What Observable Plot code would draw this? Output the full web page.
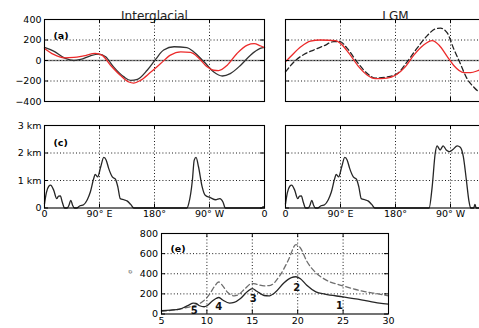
<!DOCTYPE html>
<html>
<head>
<meta charset="utf-8">
<script src="https://cdn.jsdelivr.net/npm/d3@7"></script>
<script src="https://cdn.jsdelivr.net/npm/@observablehq/plot@0.6"></script>
<style>
  html, body { margin: 0; padding: 0; background: #fff; }
  #fig { position: relative; width: 479px; height: 328px; overflow: hidden; font-family: "DejaVu Sans", sans-serif; }
  #fig > .cell { position: absolute; }
  #fig svg { max-width: none !important; }
</style>
</head>
<body>
<div id="fig"></div>
<script>
// Longitude axis shared by the four upper panels
const lonTicks = [0, 90, 180, 270, 360];
const lonTickLabels = ["0", "90° E", "180°", "90° W", "0"];
const lonGrid = [90, 180, 270];

// Stationary-wave amplitude, interglacial
const igBlackLon = [0, 15, 34, 48, 59, 75, 89, 100, 113, 130, 141, 152, 168, 182, 195, 212, 233, 244, 261, 277, 291, 304, 321, 337, 353, 360];
const igBlackVal = [128, 92, 20, 0, 10, 46, 62, 36, -62, -160, -194, -184, -95, 13, 102, 134, 125, 85, -13, -112, -151, -128, -46, 52, 118, 128];
const igRedLon = [0, 15, 32, 48, 64, 83, 94, 108, 124, 138, 146, 157, 173, 190, 206, 223, 239, 253, 266, 277, 285, 299, 315, 332, 343, 353, 360];
const igRedVal = [118, 59, 26, 30, 46, 69, 52, -46, -144, -210, -220, -194, -118, -30, 52, 85, 79, 20, -62, -95, -98, -46, 69, 151, 164, 144, 125];

// Stationary-wave amplitude, LGM
const lgmRedLon = [0, 8, 25, 41, 57, 82, 90, 104, 120, 134, 147, 166, 180, 196, 210, 226, 240, 251, 265, 275, 292, 303, 317, 335, 350, 360];
const lgmRedVal = [-13, 36, 134, 190, 200, 194, 167, 69, -62, -144, -177, -171, -144, -62, 52, 151, 194, 151, 36, -46, -118, -118, -95, -70, -40, -13];
const lgmDashLon = [0, 14, 30, 46, 63, 79, 89, 101, 117, 134, 147, 166, 183, 199, 215, 232, 245, 254, 265, 275, 286, 297, 308, 317, 330, 345, 360];
const lgmDashVal = [-112, -13, 59, 102, 144, 184, 184, 118, -13, -128, -171, -161, -128, -13, 118, 243, 308, 315, 266, 118, -30, -177, -259, -308, -330, -250, -112];

// Topography height (km) along the latitude band
const topoIgLon = [0, 3, 7, 10, 15, 20, 23, 26, 29, 33, 37, 40, 43, 46, 49, 53, 58, 64, 70, 75, 81, 83, 87, 92, 97, 101, 105, 111, 116, 120, 124, 130, 135, 141, 146, 150, 230, 233, 236, 242, 245, 248, 252, 258, 263, 272, 280, 287, 292, 296, 300, 355, 358, 360];
const topoIgVal = [0.15, 0.55, 0.79, 0.83, 0.65, 0.34, 0.43, 0.44, 0.22, 0, 0, 0.1, 0.28, 0.1, 0, 0, 0.08, 0.12, 0.3, 0.58, 1.11, 1.22, 1.13, 1.5, 1.84, 1.74, 1.44, 1.13, 1.05, 0.77, 0.34, 0.3, 0.26, 0.13, 0, 0, 0, 0, 0.16, 1.01, 1.74, 1.84, 1.5, 0.77, 0.46, 0.37, 0.3, 0.34, 0.22, 0, 0, 0, 0.05, 0];
const topoLgmLon = [0, 3, 7, 10, 15, 20, 23, 26, 29, 33, 37, 40, 43, 46, 49, 53, 58, 64, 70, 75, 81, 83, 87, 92, 97, 101, 105, 111, 116, 120, 124, 130, 135, 141, 146, 150, 235, 240, 245, 248, 253, 258, 263, 268, 274, 281, 286, 291, 296, 300, 303, 308, 310, 312, 360];
const topoLgmVal = [0.15, 0.55, 0.79, 0.83, 0.65, 0.34, 0.43, 0.44, 0.22, 0, 0, 0.1, 0.28, 0.1, 0, 0, 0.08, 0.12, 0.3, 0.58, 1.11, 1.22, 1.13, 1.5, 1.84, 1.74, 1.44, 1.13, 1.05, 0.77, 0.34, 0.3, 0.26, 0.13, 0, 0, 0, 0.77, 1.99, 2.26, 2.11, 2.26, 2.11, 2.05, 2.13, 2.26, 2.21, 1.87, 1.01, 0.28, 0, 0, 0.13, 0, 0];

// Resonance spectrum
const specPeriod = [5, 6, 7, 7.5, 8, 8.5, 8.8, 9.2, 9.7, 10, 10.5, 11, 11.3, 11.7, 12.5, 13, 13.7, 14.5, 15, 15.5, 16.3, 16.8, 17.5, 18.5, 19.3, 19.8, 20.3, 21, 22, 23, 25, 27, 29, 30];
const specSolid = [33, 39, 49, 66, 89, 108, 105, 82, 72, 82, 121, 154, 164, 141, 108, 115, 154, 226, 252, 226, 184, 180, 213, 311, 361, 370, 351, 285, 220, 197, 170, 141, 108, 98];
const specDashPeriod = [5, 7, 8.5, 9.5, 10.3, 10.8, 11.3, 11.7, 12.3, 13, 13.5, 14.2, 15, 15.5, 16.3, 17, 18, 19, 19.8, 20.3, 21, 22, 23, 25, 27, 29, 30];
const specDash = [26, 49, 82, 121, 197, 269, 318, 285, 213, 180, 193, 252, 305, 295, 279, 285, 377, 541, 689, 656, 525, 410, 344, 279, 230, 197, 180];
const modeNames = ["1", "2", "3", "4", "5"];
const modePeriod = [24.6, 19.9, 15.1, 11.3, 8.6];
const modeLabelVal = [82, 260, 150, 72, 32];

const waveTicks = [-400, -200, 0, 200, 400];
const waveGrid = [-200, 200];
const topoTicks = [0, 1, 2, 3];
const topoTickLabels = ["0", "1 km", "2 km", "3 km"];
const topoGrid = [1, 2];
const specXTicks = [5, 10, 15, 20, 25, 30];
const specXGrid = [10, 15, 20, 25];
const specYTicks = [0, 200, 400, 600, 800];
const specYGrid = [200, 400, 600];

const font = "DejaVu Sans, sans-serif";
const RED = "#ec2a2a";
const DARK = "#262626";
const style = {fontFamily: font, fontSize: "9.5px", background: "transparent", overflow: "visible", color: "black", maxWidth: "none"};
const dotted = {stroke: "black", strokeWidth: 0.9, strokeDasharray: "1,2.2"};

const pairs = (xs, ys) => xs.map((x, i) => ({x, y: ys[i]}));
const signed = d => d < 0 ? "\u2212" + (-d) : String(d);
const lonLabel = d => lonTickLabels[lonTicks.indexOf(d)];
const topoLabel = d => topoTickLabels[topoTicks.indexOf(d)];

// Short inward ticks on all four sides of a frame
function inwardTicks(xs, ys, fw, fh, len = 4) {
  return [
    Plot.tickX(xs, {x: d => d, insetTop: fh - len, stroke: "black"}),
    Plot.tickX(xs, {x: d => d, insetBottom: fh - len, stroke: "black"}),
    Plot.tickY(ys, {y: d => d, insetRight: fw - len, stroke: "black"}),
    Plot.tickY(ys, {y: d => d, insetLeft: fw - len, stroke: "black"})
  ];
}

function place(node, left, top, width, height) {
  const cell = document.createElement("div");
  cell.className = "cell";
  cell.style.left = left + "px";
  cell.style.top = top + "px";
  cell.style.width = width + "px";
  cell.style.height = height + "px";
  cell.appendChild(node);
  document.getElementById("fig").appendChild(cell);
}

// Upper row: stationary waves
function wavePanel({title, label, showY, lines}) {
  const W = 270, H = 105, m = {top: 19, right: 6, bottom: 4, left: 44};
  const fw = W - m.left - m.right, fh = H - m.top - m.bottom;
  return Plot.plot({
    width: W, height: H,
    marginTop: m.top, marginRight: m.right, marginBottom: m.bottom, marginLeft: m.left,
    style,
    x: {domain: [0, 360], axis: null},
    y: {domain: [-400, 400], axis: null},
    marks: [
      Plot.ruleX(lonGrid, dotted),
      Plot.ruleY(waveGrid, dotted),
      Plot.ruleY([0], {stroke: "#8a8a8a", strokeWidth: 1.3}),
      Plot.ruleY([0], dotted),
      ...lines.map(l => Plot.line(pairs(l.x, l.y), {x: "x", y: "y", stroke: l.stroke, strokeWidth: 1.3, strokeDasharray: l.dash, curve: "monotone-x"})),
      ...inwardTicks(lonTicks, waveTicks, fw, fh),
      Plot.frame({stroke: "black", strokeWidth: 1.1}),
      showY ? Plot.axisY({ticks: waveTicks, tickSize: 0, tickPadding: 3, tickFormat: signed, fontSize: 9.5, label: null}) : null,
      Plot.text([title], {frameAnchor: "top", dy: -8.3, fontSize: 12, fill: "#222"}),
      label ? Plot.text([label], {frameAnchor: "top-left", dx: 9, dy: 13, textAnchor: "start", fontWeight: "bold", fontSize: 9.5}) : null
    ]
  });
}

// Middle row: topography
function topoPanel({label, showY, labelTicks, x, y}) {
  const W = 270, H = 122, m = {top: 19, right: 6, bottom: 20.5, left: 44};
  const fw = W - m.left - m.right, fh = H - m.top - m.bottom;
  return Plot.plot({
    width: W, height: H,
    marginTop: m.top, marginRight: m.right, marginBottom: m.bottom, marginLeft: m.left,
    style,
    x: {domain: [0, 360], axis: null},
    y: {domain: [0, 3], axis: null},
    marks: [
      Plot.ruleX(lonGrid, dotted),
      Plot.ruleY(topoGrid, dotted),
      Plot.line(pairs(x, y), {x: "x", y: "y", stroke: DARK, strokeWidth: 1.3, curve: "monotone-x"}),
      ...inwardTicks(lonTicks, topoTicks, fw, fh),
      Plot.frame({stroke: "black", strokeWidth: 1.1}),
      Plot.axisX({ticks: labelTicks, tickSize: 0, tickPadding: 2.5, tickFormat: lonLabel, fontSize: 9.5, label: null}),
      showY ? Plot.axisY({ticks: topoTicks, tickSize: 0, tickPadding: 3, tickFormat: topoLabel, fontSize: 9.5, label: null}) : null,
      label ? Plot.text([label], {frameAnchor: "top-left", dx: 9, dy: 13.5, textAnchor: "start", fontWeight: "bold", fontSize: 9.5}) : null
    ]
  });
}

place(wavePanel({
  title: "Interglacial", label: "(a)", showY: true,
  lines: [
    {x: igBlackLon, y: igBlackVal, stroke: "#333"},
    {x: igRedLon, y: igRedVal, stroke: RED}
  ]
}), 0, 0, 270, 105);

place(wavePanel({
  title: "LGM", label: null, showY: false,
  lines: [
    {x: lgmDashLon, y: lgmDashVal, stroke: "#222", dash: "5,3"},
    {x: lgmRedLon, y: lgmRedVal, stroke: RED}
  ]
}), 241, 0, 270, 105);

place(topoPanel({label: "(c)", showY: true, labelTicks: lonTicks, x: topoIgLon, y: topoIgVal}), 0, 106, 270, 122);
// the LGM panel runs past the right edge of the figure, so its closing label is left off
place(topoPanel({label: null, showY: false, labelTicks: lonTicks.slice(0, 4), x: topoLgmLon, y: topoLgmVal}), 241, 106, 270, 122);

// Bottom: spectrum of resonant modes
{
  const W = 295, H = 103, m = {top: 8, right: 7, bottom: 14.5, left: 61};
  const fw = W - m.left - m.right, fh = H - m.top - m.bottom;
  const modes = modeNames.map((name, i) => ({name, x: modePeriod[i], y: modeLabelVal[i]}));
  place(Plot.plot({
    width: W, height: H,
    marginTop: m.top, marginRight: m.right, marginBottom: m.bottom, marginLeft: m.left,
    style,
    x: {domain: [5, 30], axis: null},
    y: {domain: [0, 800], axis: null},
    marks: [
      Plot.ruleX(specXGrid, dotted),
      Plot.ruleY(specYGrid, dotted),
      Plot.line(pairs(specDashPeriod, specDash), {x: "x", y: "y", stroke: "#6e6e6e", strokeWidth: 1.3, strokeDasharray: "5,3", curve: "monotone-x"}),
      Plot.line(pairs(specPeriod, specSolid), {x: "x", y: "y", stroke: DARK, strokeWidth: 1.3, curve: "monotone-x"}),
      Plot.text(modes, {x: "x", y: "y", text: "name", fontWeight: "bold", fontSize: 10, fill: "#111"}),
      ...inwardTicks(specXTicks, specYTicks, fw, fh),
      Plot.frame({stroke: "black", strokeWidth: 1.1}),
      Plot.axisX({ticks: specXTicks, tickSize: 0, tickPadding: 3, fontSize: 9.5, label: null}),
      Plot.axisY({ticks: specYTicks, tickSize: 0, tickPadding: 3.5, fontSize: 9.5, label: null}),
      Plot.text(["σ"], {frameAnchor: "left", dx: -31, rotate: -90, fontSize: 6, fill: "#555"}),
      Plot.text(["(e)"], {frameAnchor: "top-left", dx: 9, dy: 11.5, textAnchor: "start", fontWeight: "bold", fontSize: 9.5})
    ]
  }), 100, 225, 295, 103);
}
</script>
</body>
</html>
